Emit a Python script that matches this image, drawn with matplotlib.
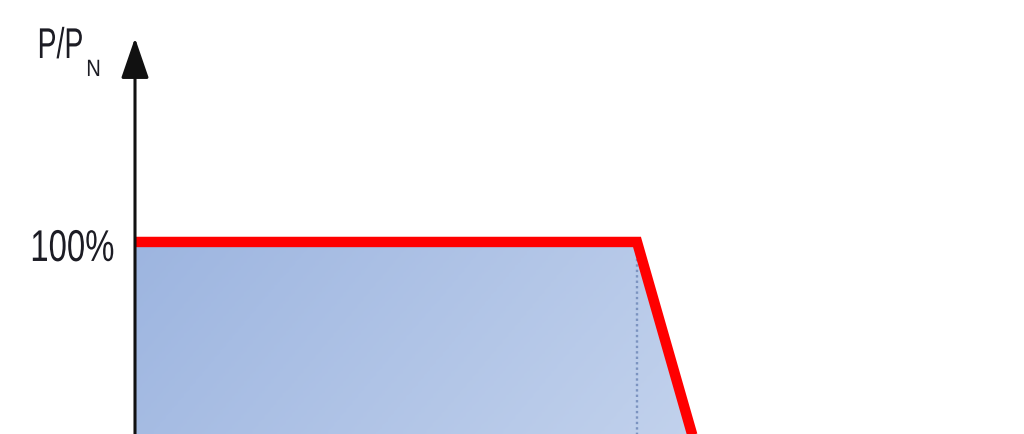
import numpy as np
import matplotlib.pyplot as plt
from matplotlib.patches import Polygon
from matplotlib.colors import LinearSegmentedColormap
from matplotlib.patheffects import AbstractPathEffect
from matplotlib.transforms import Affine2D

# power curve P/PN (%) vs speed (knee speed = 1)
speed = [0.0, 1.0, 1.137]
power = [100, 100, 0]
knee = 1.0
tick_val = 100
tick_lbl = '100%'


class Squeeze(AbstractPathEffect):
    # narrow the glyphs horizontally (source uses a condensed font)
    def __init__(self, sx, anchor='left'):
        super().__init__()
        self.sx = sx
        self.anchor = anchor

    def draw_path(self, renderer, gc, tpath, affine, rgbFace=None):
        ext = tpath.transformed(affine).get_extents()
        x0 = ext.x0 if self.anchor == 'left' else ext.x1
        aff = affine + Affine2D().translate(-x0, 0).scale(self.sx, 1).translate(x0, 0)
        renderer.draw_path(gc, tpath, aff, rgbFace)


fig = plt.figure(figsize=(10.24, 4.34), dpi=100)
ax = fig.add_axes([0, 0, 1, 1])
ax.set_xlim(-135/502, 889/502)
ax.set_ylim(20, 200.8)
ax.axis('off')

# gradient fill under the curve
poly = Polygon([(speed[0], 0), *zip(speed, power)], closed=True,
               facecolor='none', edgecolor='none')
ax.add_patch(poly)
cmap = LinearSegmentedColormap.from_list('bl', ['#9db5e0', '#c6d5ee'])
gx, gy = np.meshgrid(np.linspace(0, 1, 200), np.linspace(0, 1, 100))
grad = gx*0.75 + gy*0.25
img = ax.imshow(grad, cmap=cmap, extent=[0, 1.2, 0, 100], origin='upper',
                aspect='auto', zorder=1)
img.set_clip_path(poly)

# dotted line at knee
ax.plot([knee, knee], [0, tick_val], ls=(0, (1, 1.3)), color='#7b93c0',
        lw=1.7, zorder=2)

# red curve
ax.plot(speed, power, color='#ff0000', lw=7.5, solid_joinstyle='miter',
        solid_capstyle='butt', zorder=3)

# y axis with arrow
ax.annotate('', xy=(0, 200.8 - 38/2.4), xytext=(0, 0),
            arrowprops=dict(arrowstyle='-|>,head_length=2.5,head_width=0.86',
                            color='#111111', lw=2.2, shrinkA=0, shrinkB=0),
            zorder=4)

fam = ['Liberation Sans', 'DejaVu Sans']
ax.text(-0.04, tick_val - 7.5/2.4, tick_lbl, ha='right', va='center', fontsize=32,
        family=fam, color='#1c1c24', path_effects=[Squeeze(0.74, 'right')])
ax.text(-0.1016, 200.8 - 58/2.4, 'P/P', ha='right', va='baseline',
        fontsize=31, family=fam, color='#1c1c24', path_effects=[Squeeze(0.66, 'right')])
ax.text(-0.0976, 200.8 - 76/2.4, 'N', ha='left', va='baseline',
        fontsize=17, family=fam, color='#1c1c24', path_effects=[Squeeze(0.85)])

fig.savefig('out.png', dpi=100)
